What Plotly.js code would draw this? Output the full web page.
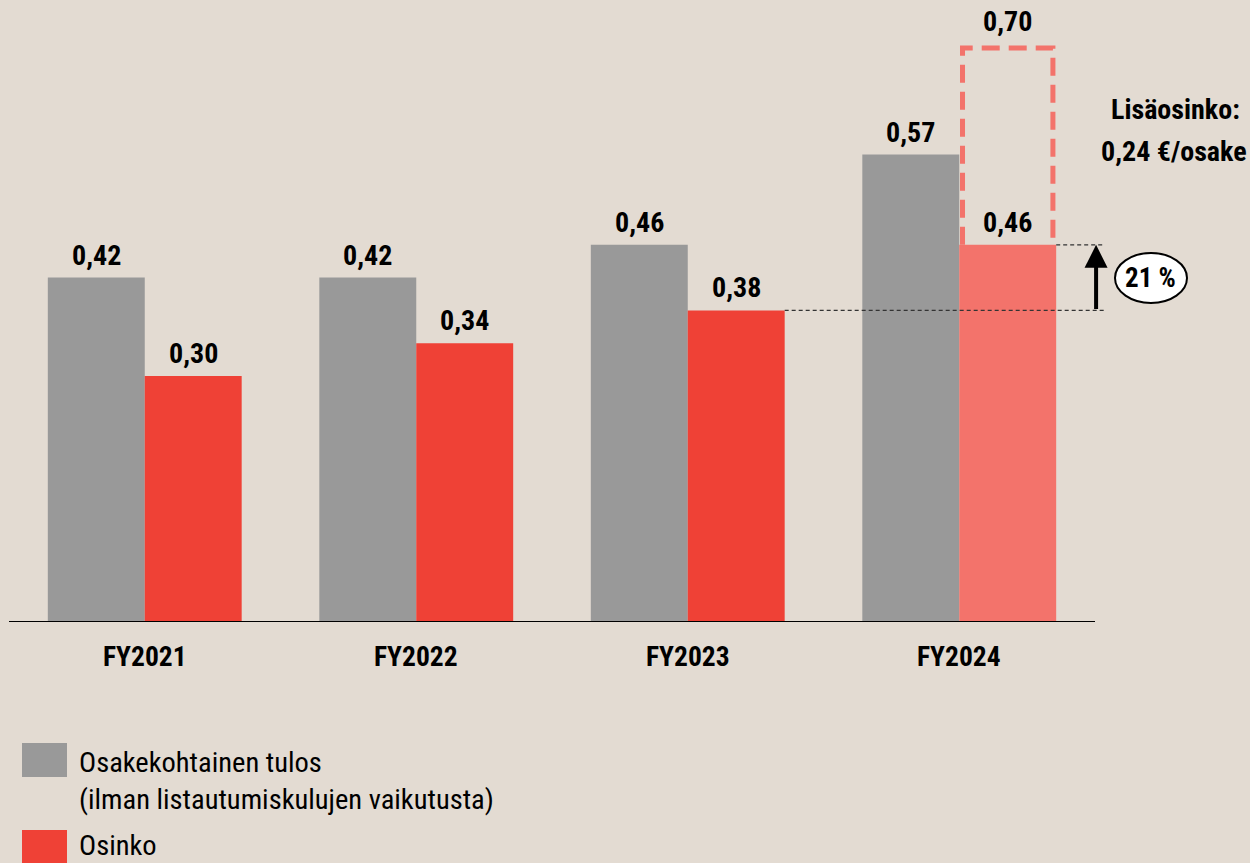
<!DOCTYPE html>
<html><head><meta charset="utf-8">
<script src="https://cdn.plot.ly/plotly-3.0.1.min.js"></script>
<style>html,body{margin:0;padding:0;background:#E3DBD2;}#chart{width:1250px;height:863px;}</style>
</head><body><div id="chart"></div>
<script>
const categories = ["FY2021","FY2022","FY2023","FY2024"];
const eps = [0.42, 0.42, 0.46, 0.57];
const dividend = [0.30, 0.34, 0.38, 0.46];
const extraDividend = 0.24;
const growthLabel = "21 %";
const extraLabel = ["Lisäosinko:", "0,24 €/osake"];
const seriesNames = ["Osakekohtainen tulos<br>(ilman listautumiskulujen vaikutusta)", "Osinko"];

const FONT = "'Liberation Sans Narrow', 'Roboto Condensed', Roboto, sans-serif";
const GRAY = "#999999", RED = "#EF4136", LRED = "#F3736B", BG = "#E3DBD2";
const L = 9, R = 0, T = 10, B = 241, W = 1250, H = 863;
const xr = [-0.5, -0.5 + (W - L - R) / 271.5];
const yr = [0, (H - B - T) / 820];
const bw = 0.357;
const fmt = v => v.toFixed(2).replace('.', ',');
const px = p => (p - L) / (W - L - R);
const py = p => (H - B - p) / (H - B - T);

const xi = categories.map((c, i) => i);
const traces = [
  {type:'bar', x: xi, y: eps, name: seriesNames[0], marker:{color: GRAY}, offset: -bw, width: bw, showlegend:false, hoverinfo:'skip'},
  {type:'bar', x: xi, y: dividend, name: seriesNames[1], marker:{color: dividend.map((v,i)=> i===dividend.length-1 ? LRED : RED)}, offset: 0, width: bw, showlegend:false, hoverinfo:'skip'}
];

const annotations = [];
const lblFont = {family: FONT, size: 28, color: '#000', weight: 700};
eps.forEach((v,i)=> annotations.push({x: i - bw/2, y: v, xref:'x', yref:'y', text: fmt(v), showarrow:false, yanchor:'bottom', yshift: 4, font: lblFont}));
dividend.forEach((v,i)=> annotations.push({x: i + bw/2, y: v, xref:'x', yref:'y', text: fmt(v), showarrow:false, yanchor:'bottom', yshift: 4, font: lblFont}));
const last = categories.length - 1;
const total = dividend[last] + extraDividend;
annotations.push({x: last + bw/2, y: total, xref:'x', yref:'y', text: fmt(total), showarrow:false, yanchor:'bottom', yshift: 8, font: lblFont});
// category labels
categories.forEach((c,i)=> annotations.push({x: i, y: 0, xref:'x', yref:'y', text: c, showarrow:false, yanchor:'middle', yshift: -34, font: {family: FONT, size: 27.5, color:'#000', weight:700}}));
// extra dividend text
const sideFont = {family: FONT, size: 28, color:'#000', weight:700};
annotations.push({x: px(1175), y: py(110), xref:'paper', yref:'paper', xanchor:'center', yanchor:'middle', text: extraLabel[0], showarrow:false, font: sideFont});
annotations.push({x: px(1174), y: py(152), xref:'paper', yref:'paper', xanchor:'center', yanchor:'middle', text: extraLabel[1], showarrow:false, font: sideFont});
// growth arrow
const arrowX = last + 0.5 + 0.004;
annotations.push({x: arrowX, y: dividend[last], ax: arrowX, ay: dividend[last-1], xref:'x', yref:'y', axref:'x', ayref:'y', text:'', showarrow:true, arrowhead:2, arrowsize:1.15, arrowwidth:4, arrowcolor:'#000', standoff:0, startstandoff:0});
// growth label
const midY = (dividend[last] + dividend[last-1]) / 2;
annotations.push({x: px(1150), y: midY, xref:'paper', yref:'y', xanchor:'center', yanchor:'middle', text: growthLabel, showarrow:false, font:{family: FONT, size: 27, color:'#000', weight:700}});
// legend text
const legFont = {family: FONT, size: 28.5, color:'#000', weight:400};
annotations.push({x: px(77), y: py(781), xref:'paper', yref:'paper', xanchor:'left', yanchor:'middle', align:'left', text: seriesNames[0], showarrow:false, font: legFont});
annotations.push({x: px(77), y: py(845), xref:'paper', yref:'paper', xanchor:'left', yanchor:'middle', align:'left', text: seriesNames[1], showarrow:false, font: legFont});

const shapes = [
  // baseline
  {type:'line', xref:'x', yref:'y', x0: -0.5, x1: last + 0.5, y0: 0, y1: 0, line:{color:'#000', width:2}},
  // dashed box for extra dividend
  {type:'path', xref:'x', yref:'y', path: `M ${last+0.012},${dividend[last]} L ${last+0.012},${total} L ${last+bw-0.012},${total} L ${last+bw-0.012},${dividend[last]}`, line:{color: LRED, width:5, dash:'18px,9px'}},
  // dashed reference lines
  {type:'line', xref:'x', yref:'y', x0: last + bw, x1: last + 0.537, y0: dividend[last], y1: dividend[last], line:{color:'#333', width:1.2, dash:'4px,3px'}},
  {type:'line', xref:'x', yref:'y', x0: last - 1 + bw, x1: last + 0.537, y0: dividend[last-1], y1: dividend[last-1], line:{color:'#333', width:1.2, dash:'4px,3px'}},
  // ellipse
  {type:'circle', xref:'paper', yref:'paper', x0: px(1115), x1: px(1187), y0: py(303), y1: py(253), fillcolor:'#fff', line:{color:'#000', width:2}},
  // legend swatches
  {type:'rect', xref:'paper', yref:'paper', x0: px(22), x1: px(67), y0: py(777), y1: py(743), fillcolor: GRAY, line:{width:0}},
  {type:'rect', xref:'paper', yref:'paper', x0: px(22), x1: px(67), y0: py(870), y1: py(830), fillcolor: RED, line:{width:0}}
];

const layout = {
  width: W, height: H,
  margin: {l: L, r: R, t: T, b: B},
  paper_bgcolor: BG, plot_bgcolor: BG,
  xaxis: {range: xr, showgrid:false, zeroline:false, showline:false, showticklabels:false, ticks:'', fixedrange:true},
  yaxis: {range: yr, showgrid:false, zeroline:false, showline:false, showticklabels:false, ticks:'', fixedrange:true},
  barmode: 'overlay',
  showlegend: false,
  annotations, shapes,
  font: {family: FONT}
};
Plotly.newPlot('chart', traces, layout, {displayModeBar:false, staticPlot:true});
</script></body></html>
